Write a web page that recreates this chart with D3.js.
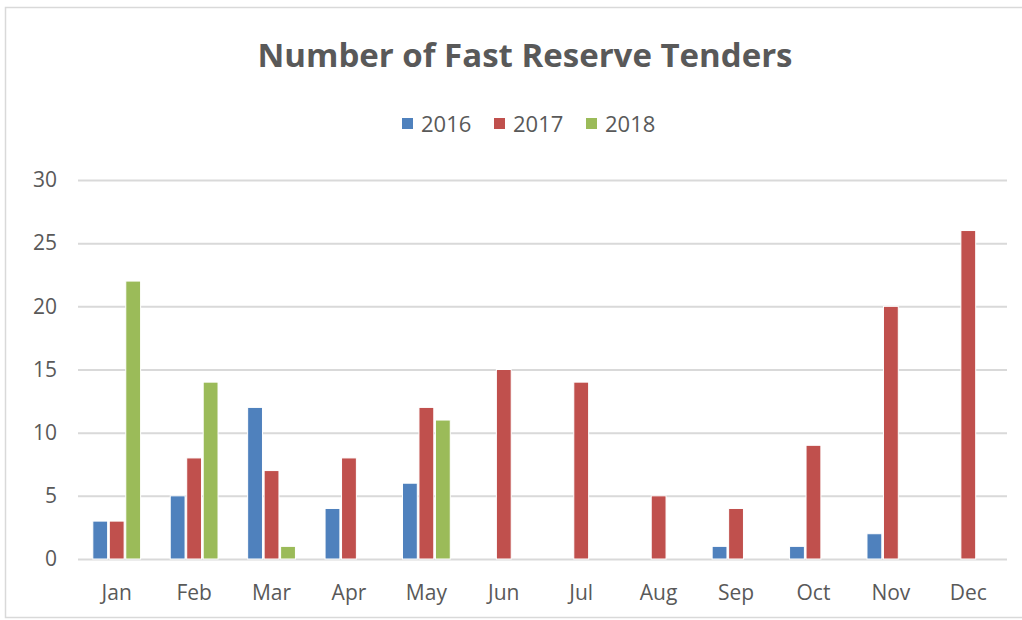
<!DOCTYPE html>
<html><head><meta charset="utf-8">
<script src="https://cdn.jsdelivr.net/npm/d3@7"></script>
<style>body{margin:0;background:#fff}svg{display:block}text{font-family:"Open Sans",sans-serif}</style>
</head><body><svg id="c" width="1022" height="620"></svg>
<script>
const months = ["Jan","Feb","Mar","Apr","May","Jun","Jul","Aug","Sep","Oct","Nov","Dec"];
const seriesNames = ["2016","2017","2018"];
const v2016 = [3,5,12,4,6,0,0,0,1,1,2,0];
const v2017 = [3,8,7,8,12,15,14,5,4,9,20,26];
const v2018 = [22,14,1,0,11,null,null,null,null,null,null,null];
const yTicks = [0,5,10,15,20,25,30];
const colors = ["#4f81bd","#c0504d","#9bbb59"];
const title = "Number of Fast Reserve Tenders";

const svg = d3.select("#c");
const txt = "#595959";
const ff = "'Open Sans',sans-serif";
svg.append("rect").attr("x",5.5).attr("y",7.5).attr("width",1030).attr("height",610)
  .attr("fill","#fff").attr("stroke","#d9d9d9").attr("stroke-width",1.5);

const x0 = d3.scaleBand().domain(months).range([78,1007]).paddingInner(0.34).paddingOuter(0.17);
const x1 = d3.scaleBand().domain(seriesNames).range([0,x0.bandwidth()]).padding(0.1);
const y = d3.scaleLinear().domain([0,30]).range([559,180]);

const grid = svg.append("g").attr("transform","translate(78,0)")
  .call(d3.axisLeft(y).tickValues(yTicks).tickSize(-929).tickFormat(""));
grid.select(".domain").remove();
grid.selectAll("line").attr("stroke","#d9d9d9").attr("stroke-width",2);

const yl = svg.append("g").attr("transform","translate(78,0)")
  .call(d3.axisLeft(y).tickValues(yTicks).tickSize(0).tickPadding(21));
yl.select(".domain").remove();
yl.selectAll("text").attr("fill",txt).attr("font-size",21).attr("font-family",ff);

const xl = svg.append("g").attr("transform","translate(0,559)")
  .call(d3.axisBottom(x0).tickSize(0).tickPadding(26));
xl.select(".domain").remove();
xl.selectAll("text").attr("fill",txt).attr("font-size",21).attr("font-family",ff);

const all = [v2016,v2017,v2018];
const data = [];
months.forEach((m,i)=>{ seriesNames.forEach((s,j)=>{ const v = all[j][i]; if(v!==null && v>0) data.push({m,s,v,c:colors[j]}); }); });
svg.append("g").selectAll("rect").data(data).join("rect")
  .attr("x",d=>x0(d.m)+x1(d.s)).attr("width",x1.bandwidth())
  .attr("y",d=>y(d.v)).attr("height",d=>y(0)-y(d.v))
  .attr("fill",d=>d.c).attr("stroke","#fff").attr("stroke-width",1);

svg.append("text").attr("x",525).attr("y",67).attr("text-anchor","middle")
  .attr("font-size",33).attr("font-weight","bold").attr("fill",txt).text(title);

const legX = [402,494,586];
const lg = svg.append("g");
seriesNames.forEach((s,j)=>{
  lg.append("rect").attr("x",legX[j]).attr("y",118).attr("width",11).attr("height",11).attr("fill",colors[j]);
  lg.append("text").attr("x",legX[j]+19).attr("y",132).attr("font-size",22).attr("fill",txt).text(s);
});
</script></body></html>
